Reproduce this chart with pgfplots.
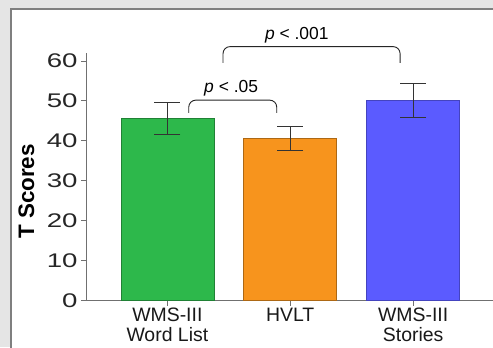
\documentclass[border=0pt]{standalone}
\usepackage{pgfplots}
\pgfplotsset{compat=1.18}
\usepackage{graphicx}
\usepackage{fontspec}
\setmainfont{Liberation Sans}
\definecolor{bggray}{HTML}{E5E5E5}
\definecolor{bordergray}{HTML}{7F7F7F}
\definecolor{barGreen}{HTML}{2DB84B}
\definecolor{barOrange}{HTML}{F7941D}
\definecolor{barBlue}{HTML}{5B5BFF}
\definecolor{axgray}{HTML}{707070}
\begin{document}
\begin{tikzpicture}[x=1bp,y=1bp]
\fill[bggray] (0,0) rectangle (493,347);
\fill[white] (11,0) rectangle (493,338);
\draw[bordergray, line width=1.3bp] (11,-2) -- (11,338) -- (495,338);
\begin{axis}[
  at={(86bp,46.3bp)}, anchor=south west,
  scale only axis, width=407bp, height=247.7bp,
  xmin=-0.662, xmax=2.65, ymin=0, ymax=62,
  axis x line*=bottom, axis y line*=left,
  axis line style={draw=axgray, line width=0.9bp},
  tick align=outside, major tick length=5bp,
  tick style={draw=axgray, line width=0.9bp},
  ytick={0,10,20,30,40,50,60},
  yticklabel={\scalebox{1.4}[1]{\pgfmathprintnumber{\tick}}},
  xtick={0,1,2},
  xticklabels={{WMS-III\\Word List},{\raisebox{-4bp}{HVLT}},{WMS-III\\Stories}},
  /pgf/number format/assume math mode=true,
  yticklabel style={font=\fontsize{19.8}{22}\selectfont, text=black!85},
  xticklabel style={font=\fontsize{19.5}{20}\selectfont, align=center, anchor=north, yshift=1bp, text=black!90},
  ybar, bar width=93bp, bar shift=0pt,
  clip=false,
]
\addplot[ybar, bar shift=0pt, fill=barGreen, draw=barGreen!70!black, line width=0.6bp,
  error bars/.cd, y dir=both, y explicit,
  error bar style={line width=1.2bp, black!80},
  error mark options={rotate=90, mark size=13bp, line width=1.2bp, black!80}]
  coordinates {(0,45.7) +- (0,4.0)};
\addplot[ybar, bar shift=0pt, fill=barOrange, draw=barOrange!70!black, line width=0.6bp,
  error bars/.cd, y dir=both, y explicit,
  error bar style={line width=1.2bp, black!80},
  error mark options={rotate=90, mark size=13bp, line width=1.2bp, black!80}]
  coordinates {(1,40.6) +- (0,3.05)};
\addplot[ybar, bar shift=0pt, fill=barBlue, draw=barBlue!75!black, line width=0.6bp,
  error bars/.cd, y dir=both, y explicit,
  error bar style={line width=1.2bp, black!80},
  error mark options={rotate=90, mark size=13bp, line width=1.2bp, black!80}]
  coordinates {(2,50.1) +- (0,4.2)};
\draw[rounded corners=7bp, line width=0.9bp, black!85]
  (axis cs:0.174,47.0) -- (axis cs:0.174,50.2) -- (axis cs:0.89,50.2) -- (axis cs:0.89,47.0);
\draw[rounded corners=7bp, line width=0.9bp, black!85]
  (axis cs:0.453,59.5) -- (axis cs:0.453,63.6) -- (axis cs:1.894,63.6) -- (axis cs:1.894,59.5);
\node[anchor=base, font=\fontsize{17.5}{20}\selectfont, inner sep=0pt] at (axis cs:0.519,52.2) {\textit{p} < .05};
\node[anchor=base, font=\fontsize{17.5}{20}\selectfont, inner sep=0pt] at (axis cs:1.053,65.3) {\textit{p} < .001};
\end{axis}
\node[rotate=90, anchor=base, inner sep=0pt, font=\bfseries\fontsize{22.5}{24}\selectfont] at (34bp,155.5bp) {T Scores};
\pgfresetboundingbox
\useasboundingbox (0,0) rectangle (493,347);
\end{tikzpicture}
\end{document}
